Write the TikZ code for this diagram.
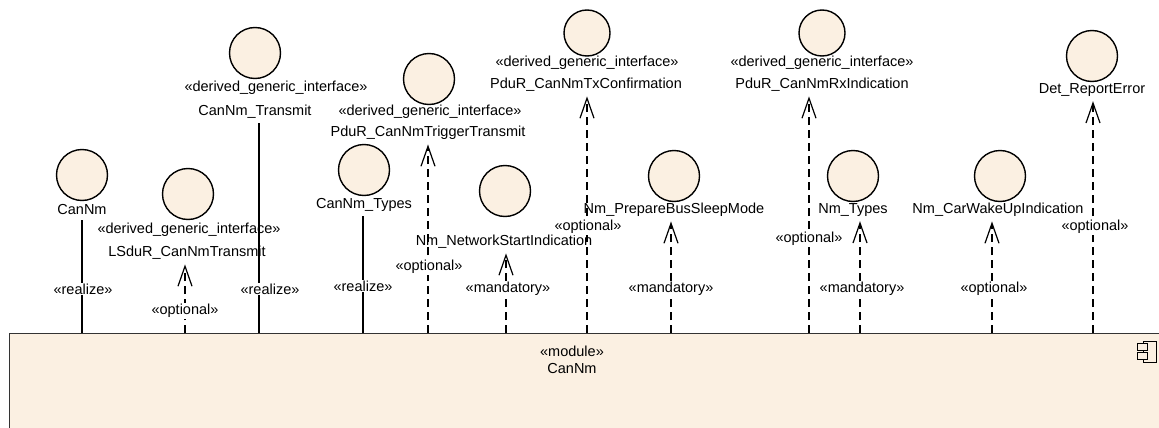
\documentclass[tikz,border=0pt]{standalone}
\usepackage{fontspec}
\setmainfont{Liberation Sans}
\usetikzlibrary{arrows.meta}
\definecolor{beige}{RGB}{251,240,226}

\begin{document}
\begin{tikzpicture}[
  x=1pt, y=-1pt,
  every node/.style={font=\fontsize{14.5}{17}\selectfont},
  iface/.style={circle, draw, line width=1.4pt, fill=beige, minimum size=51pt, inner sep=0pt},
  smalliface/.style={iface, minimum size=46pt},
  lbl/.style={inner sep=4.5pt},
  tag/.style={fill=white, inner sep=1pt},
  realize/.style={line width=1.2pt},
  dep/.style={line width=1.2pt, dash pattern=on 8pt off 5pt,
    -{Straight Barb[length=20pt, width=14pt, line width=1.2pt]}}
]
\useasboundingbox (0,0) rectangle (1159,428);
\clip (0,0) rectangle (1159,428);

% the module
\node[draw=black!80, line width=1.4pt, fill=beige, minimum width=1170pt, minimum height=120pt,
  anchor=north west, inner sep=0pt] (module) at (9,333) {};
\node[align=center] (modlbl) at (572,360) {«module»\\CanNm};
\draw[line width=1pt] (1143,341) rectangle (1156.5,362.5);
\draw[line width=1pt, fill=beige] (1137,343) rectangle (1147,350);
\draw[line width=1pt, fill=beige] (1137,352) rectangle (1147,359);

% interfaces
\node[iface] (cannm) at (82,175) {};
\node[lbl] (cannmlbl) at (82,210) {CanNm};

\node[iface] (lsdur) at (188,194) {};
\node[lbl] (lsdurst) at (189,230) {«derived\_generic\_interface»};
\node[lbl] (lsdurlbl) at (187,253) {LSduR\_CanNmTransmit};

\node[iface] (tx) at (255,53) {};
\node[lbl] (txst) at (276,88) {«derived\_generic\_interface»};
\node[lbl] (txlbl) at (255,112) {CanNm\_Transmit};

\node[iface] (trig) at (429,79) {};
\node[lbl] (trigst) at (430,112) {«derived\_generic\_interface»};
\node[lbl] (triglbl) at (428,133) {PduR\_CanNmTriggerTransmit};

\node[iface] (types) at (364,170) {};
\node[lbl] (typeslbl) at (364,205) {CanNm\_Types};

\node[iface] (netstart) at (505,191) {};
\node[lbl] (netstartlbl) at (504,242) {Nm\_NetworkStartIndication};

\node[smalliface] (txconf) at (587,33) {};
\node[lbl] (txconfst) at (587,63) {«derived\_generic\_interface»};
\node[lbl] (txconflbl) at (586,85) {PduR\_CanNmTxConfirmation};

\node[iface] (sleep) at (674,176) {};
\node[lbl] (sleeplbl) at (674,210) {Nm\_PrepareBusSleepMode};

\node[smalliface] (rxind) at (822,33) {};
\node[lbl] (rxindst) at (822,63) {«derived\_generic\_interface»};
\node[lbl] (rxindlbl) at (822,85) {PduR\_CanNmRxIndication};

\node[iface] (nmtypes) at (853,176) {};
\node[lbl] (nmtypeslbl) at (853,210) {Nm\_Types};

\node[iface] (wakeup) at (1000,176) {};
\node[lbl] (wakeuplbl) at (998,210) {Nm\_CarWakeUpIndication};

\node[iface] (det) at (1092,56) {};
\node[lbl] (detlbl) at (1092,90) {Det\_ReportError};

% connector ends on the module
\coordinate (m1) at (82,333);
\coordinate (m2) at (185,333);
\coordinate (m3) at (259,333);
\coordinate (m4) at (363,333);
\coordinate (m5) at (428,333);
\coordinate (m6) at (506,333);
\coordinate (m7) at (587,333);
\coordinate (m8) at (671,333);
\coordinate (m9) at (809,333);
\coordinate (m10) at (860,333);
\coordinate (m11) at (992,333);
\coordinate (m12) at (1093,333);

\draw[realize] (m1) -- (m1 |- cannmlbl.south);
\draw[dep] (m2) -- (m2 |- lsdurlbl.south);
\draw[realize] (m3) -- (m3 |- txlbl.south);
\draw[realize] (m4) -- (m4 |- typeslbl.south);
\draw[dep] (m5) -- (m5 |- triglbl.south);
\draw[dep] (m6) -- (m6 |- netstartlbl.south);
\draw[dep] (m7) -- (m7 |- txconflbl.south);
\draw[dep] (m8) -- (m8 |- sleeplbl.south);
\draw[dep] (m9) -- (m9 |- rxindlbl.south);
\draw[dep] (m10) -- (m10 |- nmtypeslbl.south);
\draw[dep] (m11) -- (m11 |- wakeuplbl.south);
\draw[dep] (m12) -- (m12 |- detlbl.south);

% stereotypes on the connectors
\node[tag] (t1) at (83,289) {«realize»};
\node[tag] (t2) at (185,311) {«optional»};
\node[tag] (t3) at (270,289) {«realize»};
\node[tag] (t4) at (363,286) {«realize»};
\node[tag] (t5) at (429,267) {«optional»};
\node[tag] (t6) at (508,289) {«mandatory»};
\node[tag] (t7) at (588,227) {«optional»};
\node[tag] (t8) at (671,289) {«mandatory»};
\node[tag] (t9) at (809,239) {«optional»};
\node[tag] (t10) at (862,289) {«mandatory»};
\node[tag] (t11) at (994,289) {«optional»};
\node[tag] (t12) at (1095,227) {«optional»};
\end{tikzpicture}
\end{document}
